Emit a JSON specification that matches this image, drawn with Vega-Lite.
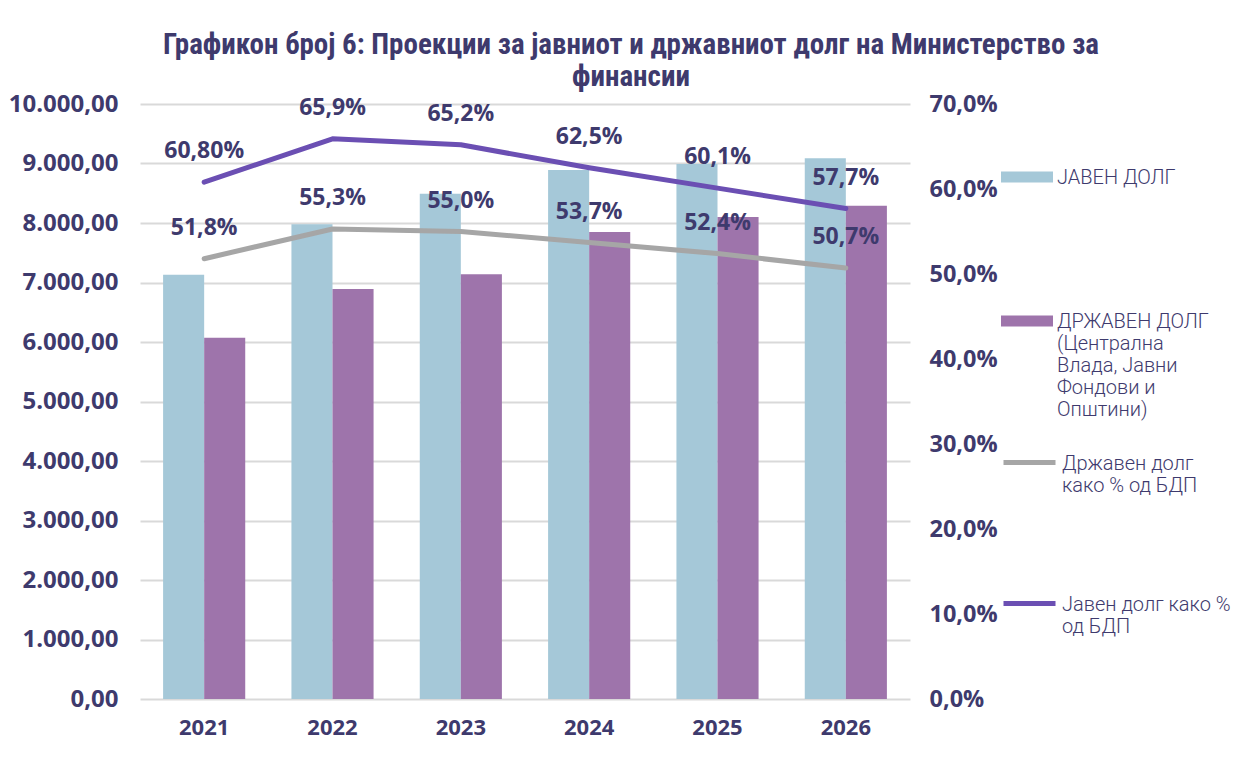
{
  "$schema": "https://vega.github.io/schema/vega-lite/v6.json",
  "width": 770,
  "height": 595,
  "autosize": {"type": "none"},
  "padding": {"left": 140, "top": 104, "right": 334, "bottom": 63},
  "config": {
    "locale": {"number": {"decimal": ",", "thousands": ".", "grouping": [3], "currency": ["", ""]}},
    "view": {"stroke": null},
    "font": "Open Sans",
    "axis": {"labelFont": "Open Sans", "labelFontWeight": "bold", "labelColor": "#3e3a6d", "ticks": false, "domain": false, "gridColor": "#d9d9d9", "gridWidth": 2, "title": null},
    "axisX": {"labelFontSize": 22, "labelPadding": 18, "labelAngle": 0, "grid": false},
    "axisLeft": {"labelFontSize": 24, "labelPadding": 22, "grid": true},
    "axisRight": {"labelFontSize": 23.5, "labelPadding": 19, "grid": false}
  },
  "title": {
    "text": ["Графикон број 6: Проекции за јавниот и државниот долг на Министерство за", "финансии"],
    "font": "Liberation Sans Narrow, Roboto Condensed, Open Sans",
    "fontSize": 29,
    "fontWeight": "bold",
    "color": "#3e3a6d",
    "anchor": "middle",
    "dx": 106,
    "offset": 0,
    "lineHeight": 32
  },
  "datasets": {
    "bars": [
      {"year": "2021", "series": "ЈАВЕН ДОЛГ", "value": 7130},
      {"year": "2021", "series": "ДРЖАВЕН ДОЛГ", "value": 6070},
      {"year": "2022", "series": "ЈАВЕН ДОЛГ", "value": 7980},
      {"year": "2022", "series": "ДРЖАВЕН ДОЛГ", "value": 6890},
      {"year": "2023", "series": "ЈАВЕН ДОЛГ", "value": 8490},
      {"year": "2023", "series": "ДРЖАВЕН ДОЛГ", "value": 7140},
      {"year": "2024", "series": "ЈАВЕН ДОЛГ", "value": 8890},
      {"year": "2024", "series": "ДРЖАВЕН ДОЛГ", "value": 7850},
      {"year": "2025", "series": "ЈАВЕН ДОЛГ", "value": 8990},
      {"year": "2025", "series": "ДРЖАВЕН ДОЛГ", "value": 8100},
      {"year": "2026", "series": "ЈАВЕН ДОЛГ", "value": 9090},
      {"year": "2026", "series": "ДРЖАВЕН ДОЛГ", "value": 8290}
    ],
    "lines": [
      {"year": "2021", "series": "Државен долг како % од БДП", "pct": 0.518, "label": "51,8%"},
      {"year": "2022", "series": "Државен долг како % од БДП", "pct": 0.553, "label": "55,3%"},
      {"year": "2023", "series": "Државен долг како % од БДП", "pct": 0.550, "label": "55,0%"},
      {"year": "2024", "series": "Државен долг како % од БДП", "pct": 0.537, "label": "53,7%"},
      {"year": "2025", "series": "Државен долг како % од БДП", "pct": 0.524, "label": "52,4%"},
      {"year": "2026", "series": "Државен долг како % од БДП", "pct": 0.507, "label": "50,7%"},
      {"year": "2021", "series": "Јавен долг како % од БДП", "pct": 0.608, "label": "60,80%"},
      {"year": "2022", "series": "Јавен долг како % од БДП", "pct": 0.659, "label": "65,9%"},
      {"year": "2023", "series": "Јавен долг како % од БДП", "pct": 0.652, "label": "65,2%"},
      {"year": "2024", "series": "Јавен долг како % од БДП", "pct": 0.625, "label": "62,5%"},
      {"year": "2025", "series": "Јавен долг како % од БДП", "pct": 0.601, "label": "60,1%"},
      {"year": "2026", "series": "Јавен долг како % од БДП", "pct": 0.577, "label": "57,7%"}
    ]
  },
  "layer": [
    {
      "data": {"name": "bars"},
      "mark": {"type": "bar"},
      "encoding": {
        "x": {"field": "year", "type": "nominal", "scale": {"paddingInner": 0.36, "paddingOuter": 0.18}, "axis": {"title": null}},
        "xOffset": {"field": "series", "type": "nominal", "sort": ["ЈАВЕН ДОЛГ", "ДРЖАВЕН ДОЛГ"], "scale": {"paddingInner": 0, "paddingOuter": 0}},
        "y": {"field": "value", "type": "quantitative", "scale": {"domain": [0, 10000]}, "axis": {"orient": "left", "values": [0, 1000, 2000, 3000, 4000, 5000, 6000, 7000, 8000, 9000, 10000], "format": ",.2f", "title": null}},
        "fill": {
          "field": "series", "type": "nominal",
          "scale": {"domain": ["ЈАВЕН ДОЛГ", "ДРЖАВЕН ДОЛГ"], "range": ["#a5c8d8", "#9e74ab"]},
          "legend": {
            "title": null, "orient": "none", "legendX": 861, "legendY": 54, "direction": "vertical", "padding": 0,
            "symbolType": "M-1,-0.48H1V-0.06H-1Z", "symbolSize": 2704, "symbolStrokeWidth": 0, "symbolOpacity": 1,
            "labelFont": "Roboto", "labelFontWeight": 300, "labelFontSize": 20, "labelColor": "#3e3a6d", "labelBaseline": "alphabetic", "labelOffset": 4, "labelLimit": 400,
            "rowPadding": 114,
            "labelExpr": "datum.value == 'ЈАВЕН ДОЛГ' ? ['ЈАВЕН ДОЛГ'] : ['ДРЖАВЕН ДОЛГ', '(Централна', 'Влада, Јавни', 'Фондови и', 'Општини)']"
          }
        }
      }
    },
    {
      "data": {"name": "lines"},
      "encoding": {
        "x": {"field": "year", "type": "nominal", "axis": {"title": null}},
        "y": {"field": "pct", "type": "quantitative", "scale": {"domain": [0, 0.7]}, "axis": {"orient": "right", "values": [0, 0.1, 0.2, 0.3, 0.4, 0.5, 0.6, 0.7], "format": ".1%", "title": null}}
      },
      "layer": [
        {
          "mark": {"type": "line", "strokeWidth": 5, "strokeCap": "round", "strokeJoin": "round"},
          "encoding": {
            "stroke": {
              "field": "series", "type": "nominal",
              "scale": {"domain": ["Државен долг како % од БДП", "Јавен долг како % од БДП"], "range": ["#a6a6a6", "#6b4fb3"]},
              "legend": {
                "title": null, "orient": "none", "legendX": 861, "legendY": 337, "direction": "vertical", "padding": 0,
                "symbolType": "M-1,-0.27H1", "symbolSize": 2704, "symbolStrokeWidth": 5, "symbolOpacity": 1,
                "labelFont": "Roboto", "labelFontWeight": 300, "labelFontSize": 20, "labelColor": "#3e3a6d", "labelBaseline": "alphabetic", "labelOffset": 4, "labelLimit": 400,
                "rowPadding": 86,
                "labelExpr": "datum.value == 'Државен долг како % од БДП' ? ['Државен долг', 'како % од БДП'] : ['Јавен долг како %', 'од БДП']"
              }
            }
          }
        },
        {
          "mark": {"type": "text", "dy": -31, "baseline": "middle", "font": "Open Sans", "fontWeight": "bold", "fontSize": 23, "fill": "#3e3a6d"},
          "encoding": {"text": {"field": "label", "type": "nominal"}}
        }
      ]
    }
  ],
  "resolve": {"scale": {"y": "independent"}}
}
